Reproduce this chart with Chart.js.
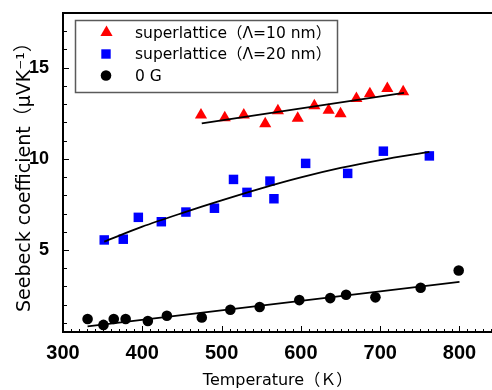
<!DOCTYPE html>
<html>
<head>
<meta charset="utf-8">
<script src="https://cdn.jsdelivr.net/npm/chart.js@4.4.0/dist/chart.umd.min.js"></script>
<style>
  html, body { margin: 0; padding: 0; background: #fff; }
</style>
</head>
<body>
<canvas id="chart" width="492" height="390"></canvas>
<script>
// superlattice (Λ=10 nm)
const tempTri = [474, 504, 528, 555, 571, 596, 617, 635, 650, 670, 687, 709, 729];
const seebTri = [12.40, 12.26, 12.40, 11.92, 12.64, 12.22, 12.91, 12.66, 12.47, 13.31, 13.57, 13.86, 13.68];
// superlattice (Λ=20 nm)
const tempSq = [352, 376, 395, 424, 455, 491, 515, 532, 561, 566, 606, 659, 704, 762];
const seebSq = [5.55, 5.59, 6.79, 6.55, 7.08, 7.29, 8.87, 8.16, 8.78, 7.81, 9.75, 9.2, 10.42, 10.16];
// 0 G
const tempCirc = [331, 351, 364, 379, 407, 431, 475, 511, 548, 598, 637, 657, 694, 751, 799];
const seebCirc = [1.21, 0.89, 1.21, 1.21, 1.1, 1.39, 1.3, 1.72, 1.87, 2.25, 2.36, 2.54, 2.4, 2.93, 3.87];

// fitted lines
const fitTriT = [475, 730];
const fitTriS = [11.95, 13.62];
const fitSqT = [352, 400, 450, 500, 550, 600, 650, 700, 762];
const fitSqS = [5.46, 6.28, 7.02, 7.72, 8.38, 8.98, 9.5, 9.93, 10.38];
const fitCircT = [331, 800];
const fitCircS = [0.81, 3.25];

const xTicks = [300, 400, 500, 600, 700, 800];
const yTicks = [5, 10, 15];
const legendLabels = ['superlattice\uFF08\u039B=10 nm\uFF09', 'superlattice\uFF08\u039B=20 nm\uFF09', '0 G'];

const pts = (xs, ys) => xs.map((x, i) => ({ x: x, y: ys[i] }));
const textFont = "'DejaVu Sans', 'Noto Sans CJK JP', sans-serif";

// inward ticks, top frame line and the boxed legend
const framePlugin = {
  id: 'frame',
  afterDraw(chart) {
    const ctx = chart.ctx;
    const a = chart.chartArea;
    const xs = chart.scales.x, ys = chart.scales.y;
    ctx.save();
    ctx.strokeStyle = '#000';
    ctx.lineWidth = 2;
    ctx.beginPath();
    ctx.moveTo(a.left - 1, a.top);
    ctx.lineTo(a.right, a.top);
    ctx.stroke();

    ctx.lineWidth = 1;
    ctx.beginPath();
    for (let t = 300; t <= 840; t += 10) {
      const px = Math.round(xs.getPixelForValue(t)) + 0.5;
      const len = t % 100 === 0 ? 6 : 3;
      ctx.moveTo(px, a.bottom);
      ctx.lineTo(px, a.bottom - len);
    }
    for (let v = 1; v <= 17; v++) {
      const py = Math.round(ys.getPixelForValue(v)) + 0.5;
      const len = v % 5 === 0 ? 6 : 4;
      ctx.moveTo(a.left, py);
      ctx.lineTo(a.left + len, py);
    }
    ctx.stroke();

    // legend
    ctx.strokeStyle = '#5a5a5a';
    ctx.lineWidth = 1.5;
    ctx.strokeRect(75.5, 20.5, 262, 72);
    const rows = [32.5, 54, 75.5];
    ctx.fillStyle = '#ff0000';
    ctx.beginPath();
    ctx.moveTo(106.5, rows[0] - 7);
    ctx.lineTo(106.5 + 6.1, rows[0] + 3.5);
    ctx.lineTo(106.5 - 6.1, rows[0] + 3.5);
    ctx.closePath();
    ctx.fill();
    ctx.fillStyle = '#0000ff';
    ctx.fillRect(106 - 4.7, rows[1] - 4.7, 9.4, 9.4);
    ctx.fillStyle = '#000';
    ctx.beginPath();
    ctx.arc(106, rows[2], 5.3, 0, Math.PI * 2);
    ctx.fill();

    ctx.fillStyle = '#000';
    ctx.font = '15.5px ' + textFont;
    ctx.textBaseline = 'middle';
    ctx.textAlign = 'left';
    legendLabels.forEach((s, i) => ctx.fillText(s, 135, rows[i] + 1));
    ctx.restore();
  }
};

new Chart(document.getElementById('chart').getContext('2d'), {
  type: 'scatter',
  data: {
    datasets: [
      { data: pts(fitTriT, fitTriS), showLine: true, borderColor: '#000', borderWidth: 1.8, pointRadius: 0, fill: false },
      { data: pts(fitSqT, fitSqS), showLine: true, borderColor: '#000', borderWidth: 1.8, pointRadius: 0, fill: false, tension: 0.3 },
      { data: pts(fitCircT, fitCircS), showLine: true, borderColor: '#000', borderWidth: 1.8, pointRadius: 0, fill: false },
      { data: pts(tempTri, seebTri), pointStyle: 'triangle', pointRadius: 7, backgroundColor: '#ff0000', borderWidth: 0 },
      { data: pts(tempSq, seebSq), pointStyle: 'rect', pointRadius: 6.7, backgroundColor: '#0000ff', borderWidth: 0 },
      { data: pts(tempCirc, seebCirc), pointStyle: 'circle', pointRadius: 5.3, backgroundColor: '#000', borderWidth: 0 }
    ]
  },
  options: {
    responsive: false,
    animation: false,
    layout: { autoPadding: false, padding: { top: 13, right: 0, left: 0, bottom: 0 } },
    plugins: { legend: { display: false }, tooltip: { enabled: false } },
    scales: {
      x: {
        type: 'linear',
        min: 300,
        max: 841,
        afterBuildTicks: s => { s.ticks = xTicks.map(v => ({ value: v })); },
        afterFit: s => { s.height = 58; s.paddingLeft = 0; s.paddingRight = 0; },
        grid: { display: false },
        border: { display: true, color: '#000', width: 2 },
        ticks: { color: '#000', padding: 1, maxRotation: 0, font: { family: "'Liberation Sans', Arial, sans-serif", size: 20, weight: 'bold' } },
        title: { display: true, text: 'Temperature\uFF08\uFF2B\uFF09', color: '#000', padding: { top: 0, bottom: 0 }, font: { family: textFont, size: 16 } }
      },
      y: {
        type: 'linear',
        min: 0.5,
        max: 18,
        afterBuildTicks: s => { s.ticks = yTicks.map(v => ({ value: v })); },
        afterFit: s => { s.width = 63; s.paddingTop = 0; s.paddingBottom = 0; },
        grid: { display: false },
        border: { display: true, color: '#000', width: 2 },
        ticks: { color: '#000', padding: 6, font: { family: "'Liberation Sans', Arial, sans-serif", size: 18, weight: 'bold' } },
        title: { display: true, text: 'Seebeck coefficient\uFF08\u03BCVK\u207B\u00B9\uFF09', color: '#000', padding: { top: 14, bottom: 0 }, font: { family: textFont, size: 19 } }
      }
    }
  },
  plugins: [framePlugin]
});
</script>
</body>
</html>
